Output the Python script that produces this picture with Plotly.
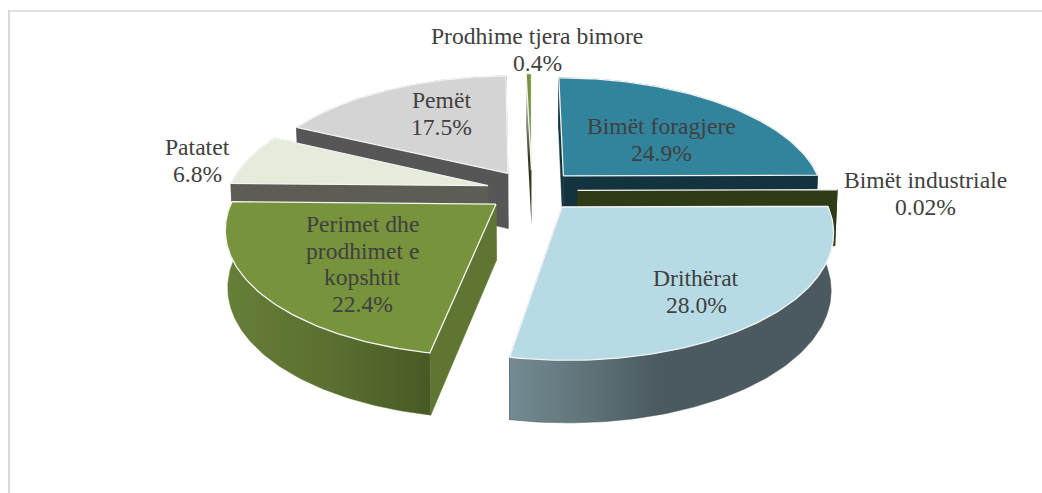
import math
import plotly.graph_objects as go

# --- data ---
categories = ["Bimët foragjere", "Bimët industriale", "Drithërat",
              "Perimet dhe<br>prodhimet e<br>kopshtit", "Patatet", "Pemët",
              "Prodhime tjera bimore"]
values = [24.9, 0.02, 28.0, 22.4, 6.8, 17.5, 0.4]
value_decimals = [1, 2, 1, 1, 1, 1, 1]

# --- styling ---
top_colors = ["#31849b", "#2f3a17", "#b6dbe5", "#77933c", "#e6ecdc", "#d4d4d4", "#77933c"]
wall_colors = ["#13333f", "#2f3a17", "#4a5a5e", "#5f7632", "#5d5d55", "#565656", "#333b20"]
draw_order = [6, 0, 5, 4, 1, 3, 2]
label_centers = [(661, 126), (925, 180), (696, 278), (362, 224), (197, 147), (441, 100), (537, 36)]
LINE_PITCH = 26.5
FONT = dict(family="Liberation Serif", size=23.6, color="#404040")

# --- projection of the tilted pie onto the page ---
XC, YC, A, B, K = 532, 190.5, 260, 120, 0.175
EXPLODE, H, WALL_X = 0.175, 56, 0.992


def project(u, v):
    w = 1 + K * v
    return XC + A * u / w, YC - B * v / w, w


def drop(p):
    x, y, w = p
    return XC + (x - XC) * WALL_X, y + H / math.sqrt(w)


total = sum(values)
traces = []


def poly(pts, fill, line=None, gradient=None, lw=1.2, lw_default=0.5):
    xs = [p[0] for p in pts] + [pts[0][0]]
    ys = [p[1] for p in pts] + [pts[0][1]]
    kw = dict(fillcolor=fill) if gradient is None else dict(fillgradient=gradient)
    traces.append(go.Scatter(x=xs, y=ys, mode="lines", fill="toself",
                             line=dict(color=line or fill, width=lw if line else lw_default),
                             hoverinfo="skip", showlegend=False, **kw))


cum = [0]
for val in values:
    cum.append(cum[-1] + val)

for i in draw_order:
    a0 = cum[i] / total * 2 * math.pi
    a1 = cum[i + 1] / total * 2 * math.pi
    mid = (a0 + a1) / 2
    du, dv = EXPLODE * math.sin(mid), EXPLODE * math.cos(mid)
    n = max(3, int((a1 - a0) * 60))
    rim = [project(du + math.sin(a0 + (a1 - a0) * t / n),
                   dv + math.cos(a0 + (a1 - a0) * t / n)) for t in range(n + 1)]
    apex = project(du, dv)
    rim2 = [drop(p) for p in rim]
    apex2 = drop(apex)
    wall = wall_colors[i]
    name = categories[i]

    grad = None
    if name == "Drithërat":
        grad = dict(type="horizontal",
                    colorscale=[[0, "#748b93"], [0.25, "#5e7278"], [0.46, "#4a5a5e"], [1, "#4a5a5e"]])
    elif name.startswith("Perimet"):
        grad = dict(type="horizontal",
                    colorscale=[[0, "#667f38"], [0.5, "#5a7030"], [1, "#475a25"]])
    elif name.startswith("Prodhime"):
        grad = dict(type="vertical", colorscale=[[0, "#333b20"], [0.45, "#333b20"], [1, "#ffffff"]])

    # radial walls, then the rim wall, then the top face
    if name.startswith("Prodhime"):
        poly([apex[:2], rim[0][:2], rim2[0], apex2], wall, gradient=grad, lw_default=0)
        poly([apex[:2], rim[-1][:2], rim2[-1], apex2], wall, gradient=grad, lw_default=0)
    else:
        poly([apex[:2], rim[0][:2], rim2[0], apex2], wall, line=None)
        poly([apex[:2], rim[-1][:2], rim2[-1], apex2], wall, line=None)
        poly([p[:2] for p in rim] + rim2[::-1], wall, gradient=grad)
    poly([apex[:2]] + [p[:2] for p in rim], top_colors[i], line="#f4f4f4", lw=1.3)

# --- labels ---
annotations = []
for name, val, dec, (cx, cy) in zip(categories, values, value_decimals, label_centers):
    lines = name.split("<br>") + [f"{val:.{dec}f}%"]
    for j, text in enumerate(lines):
        annotations.append(dict(x=cx, y=cy + j * LINE_PITCH, text=text, showarrow=False,
                                xanchor="center", yanchor="middle", font=FONT,
                                xref="x", yref="y"))

fig = go.Figure(traces)
fig.update_layout(
    width=1042, height=493, margin=dict(l=0, r=0, t=0, b=0),
    paper_bgcolor="white", plot_bgcolor="white", annotations=annotations,
    xaxis=dict(range=[0, 1042], visible=False, fixedrange=True),
    yaxis=dict(range=[493, 0], visible=False, fixedrange=True),
    shapes=[
        dict(type="line", x0=8.5, x1=1042, y0=11, y1=11, line=dict(color="#d9d9d9", width=1.5)),
        dict(type="line", x0=9, x1=9, y0=10, y1=493, line=dict(color="#d9d9d9", width=2)),
    ],
)
fig.write_html("out.html", config=dict(displayModeBar=False),
               post_script="document.body.style.margin='0';document.body.style.overflow='hidden';")
